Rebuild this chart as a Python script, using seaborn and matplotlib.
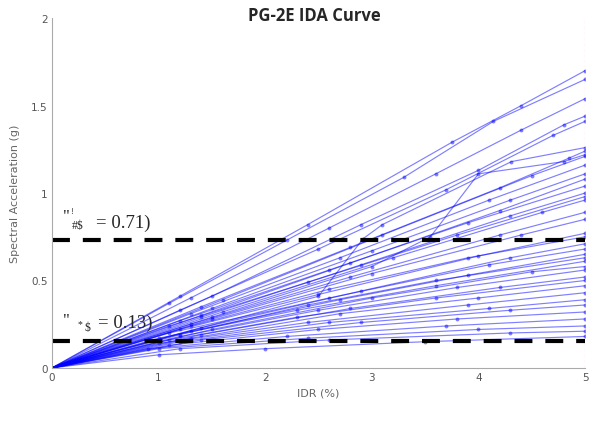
import numpy as np
import pandas as pd
import matplotlib
matplotlib.use("Agg")
import matplotlib.pyplot as plt
import seaborn as sns

# ============================================
# DONNÉES
# ============================================
idr_pts = [
    [0, 1.2, 2.4, 3.75, 4.4, 5], [0, 1.1, 2.2, 3.3, 4.14, 5], [0, 1.3, 2.6, 3.6, 4.4, 5],
    [0, 1.5, 2.9, 4.0, 4.8, 5], [0, 1.2, 2.5, 3.7, 4.7, 5], [0, 2.5, 2.92, 3.1, 4.31, 5],
    [0, 1.4, 2.8, 4.2, 4.85, 5], [0, 1.5, 3.0, 3.55, 4.0, 4.8, 5], [0, 1.6, 3.1, 4.5, 5],
    [0, 1.3, 2.7, 4.1, 5], [0, 1.5, 3.0, 4.3, 5], [0, 1.2, 2.6, 3.9, 5],
    [0, 1.4, 2.9, 4.3, 5], [0, 1.1, 2.4, 3.8, 5], [0, 1.6, 3.2, 4.6, 5],
    [0, 1.3, 2.8, 4.2, 5], [0, 1.5, 3.0, 4.4, 5], [0, 1.2, 2.5, 4.0, 5],
    [0, 1.4, 2.9, 4.3, 5], [0, 1.1, 2.6, 4.1, 5], [0, 1.3, 2.7, 3.9, 5],
    [0, 1.0, 2.3, 3.6, 5], [0, 1.5, 3.0, 4.5, 5], [0, 1.2, 2.5, 3.8, 5],
    [0, 1.4, 2.8, 4.2, 5], [0, 1.1, 2.3, 3.6, 5], [0, 1.3, 2.7, 4.0, 5],
    [0, 1.0, 2.4, 3.9, 5], [0, 1.2, 2.6, 4.1, 5], [0, 1.4, 2.9, 4.3, 5],
    [0, 1.1, 2.5, 3.8, 5], [0, 0.9, 2.2, 3.7, 5], [0, 1.0, 2.4, 4.0, 5],
    [0, 1.2, 2.6, 4.3, 5], [0, 1.0, 2.0, 3.5, 5], [0, 1.3, 2.6, 3.9, 5],
    [0, 1.2, 2.4, 3.6, 5], [0, 1.4, 2.8, 4.2, 5],
]
sa_pts = [
    [0, 0.41, 0.82, 1.29, 1.50, 1.70], [0, 0.37, 0.73, 1.09, 1.41, 1.65], [0, 0.40, 0.80, 1.11, 1.36, 1.54],
    [0, 0.41, 0.82, 1.13, 1.39, 1.44], [0, 0.33, 0.68, 1.02, 1.33, 1.41], [0, 0.41, 0.74, 0.82, 1.18, 1.26],
    [0, 0.35, 0.69, 1.03, 1.20, 1.24], [0, 0.29, 0.58, 0.75, 1.11, 1.18, 1.22], [0, 0.39, 0.76, 1.10, 1.21],
    [0, 0.31, 0.63, 0.96, 1.16], [0, 0.34, 0.67, 0.96, 1.11], [0, 0.27, 0.56, 0.83, 1.04],
    [0, 0.29, 0.59, 0.87, 1.00], [0, 0.24, 0.49, 0.76, 0.98], [0, 0.32, 0.63, 0.89, 0.96],
    [0, 0.25, 0.52, 0.76, 0.89], [0, 0.28, 0.54, 0.76, 0.85], [0, 0.22, 0.42, 0.64, 0.77],
    [0, 0.23, 0.44, 0.63, 0.71], [0, 0.20, 0.40, 0.59, 0.68], [0, 0.21, 0.39, 0.53, 0.65],
    [0, 0.17, 0.33, 0.47, 0.61], [0, 0.22, 0.40, 0.55, 0.58], [0, 0.18, 0.33, 0.46, 0.56],
    [0, 0.19, 0.34, 0.46, 0.52], [0, 0.16, 0.29, 0.40, 0.50], [0, 0.17, 0.31, 0.40, 0.47],
    [0, 0.14, 0.26, 0.36, 0.43], [0, 0.15, 0.26, 0.34, 0.39], [0, 0.16, 0.26, 0.33, 0.36],
    [0, 0.13, 0.22, 0.28, 0.32], [0, 0.11, 0.18, 0.24, 0.28], [0, 0.11, 0.17, 0.22, 0.24],
    [0, 0.11, 0.16, 0.20, 0.21], [0, 0.075, 0.11, 0.15, 0.18], [0, 0.24, 0.45, 0.63, 0.75],
    [0, 0.19, 0.36, 0.50, 0.63], [0, 0.30, 0.60, 0.90, 1.08],
]
seuil_haut = 0.733
seuil_bas = 0.152
label_haut = "= 0.71)"
label_bas = "= 0.13)"
x_ticks = [0, 1, 2, 3, 4, 5]
y_ticks = [0, 0.5, 1, 1.5, 2]
y_tick_labels = ["0", "0.5", "1", "1.5", "2"]

# table longue pour seaborn
rows = []
for k, (xs, ys) in enumerate(zip(idr_pts, sa_pts)):
    for x, y in zip(xs, ys):
        rows.append({"record": k, "idr": x, "sa": y})
df = pd.DataFrame(rows)

# ============================================
# FIGURE
# ============================================
sns.set_style("white")
fig = plt.figure(figsize=(5.97, 4.27), dpi=100)
ax = fig.add_axes([0.087, 0.136, 0.893, 0.819])

sns.lineplot(data=df, x="idr", y="sa", units="record", estimator=None, sort=False,
             color="blue", alpha=0.5, lw=0.85, marker="o", markersize=2.8,
             markeredgewidth=0, ax=ax)

# limite de drift à 5 %
ax.plot([5, 5], [0, 2], color="#ff8080", lw=0.8, ls=(0, (3, 2)), alpha=0.8)

# seuils
for s in [seuil_haut, seuil_bas]:
    ax.plot([0, 5], [s, s], color="black", lw=3, dashes=(4.3, 3.1), solid_capstyle="butt")

ax.set_xlim(0, 5)
ax.set_ylim(0, 2)
ax.set_xticks(x_ticks)
ax.set_yticks(y_ticks)
ax.set_yticklabels(y_tick_labels)
ax.tick_params(direction="in", length=3, width=0.6, colors="#888888", labelsize=7.5,
               labelcolor="#555555", pad=3)
for side in ["top", "right"]:
    ax.spines[side].set_visible(False)
for side in ["left", "bottom"]:
    ax.spines[side].set_color("#aaaaaa")
    ax.spines[side].set_linewidth(0.8)
ax.set_xlabel("IDR (%)", fontsize=8, color="#666666", labelpad=4)
ax.set_ylabel("Spectral Acceleration (g)", fontsize=8, color="#666666", labelpad=8)

# textes des seuils (polices de la source cassées)
serif = "Liberation Serif"
ax.text(0.10, 0.87, '"', fontsize=12, family=serif, ha="left", va="center")
ax.text(0.17, 0.895, '!', fontsize=6, family=serif, ha="left", va="center")
ax.text(0.19, 0.82, '#$', fontsize=8.5, family=serif, ha="left", va="center")
ax.text(0.41, 0.833, label_haut, fontsize=13.5, family=serif, ha="left", va="center")

ax.text(0.10, 0.275, '"', fontsize=12, family=serif, ha="left", va="center")
ax.text(0.24, 0.255, '*', fontsize=7, family=serif, ha="left", va="center")
ax.text(0.31, 0.235, '$', fontsize=8.5, family=serif, ha="left", va="center")
ax.text(0.43, 0.26, label_bas, fontsize=13.5, family=serif, ha="left", va="center")

fig.text(0.527, 0.963, "PG-2E IDA Curve", fontsize=12, fontweight="bold",
         family="Open Sans", ha="center", va="center")

fig.savefig("out.png", dpi=100)
